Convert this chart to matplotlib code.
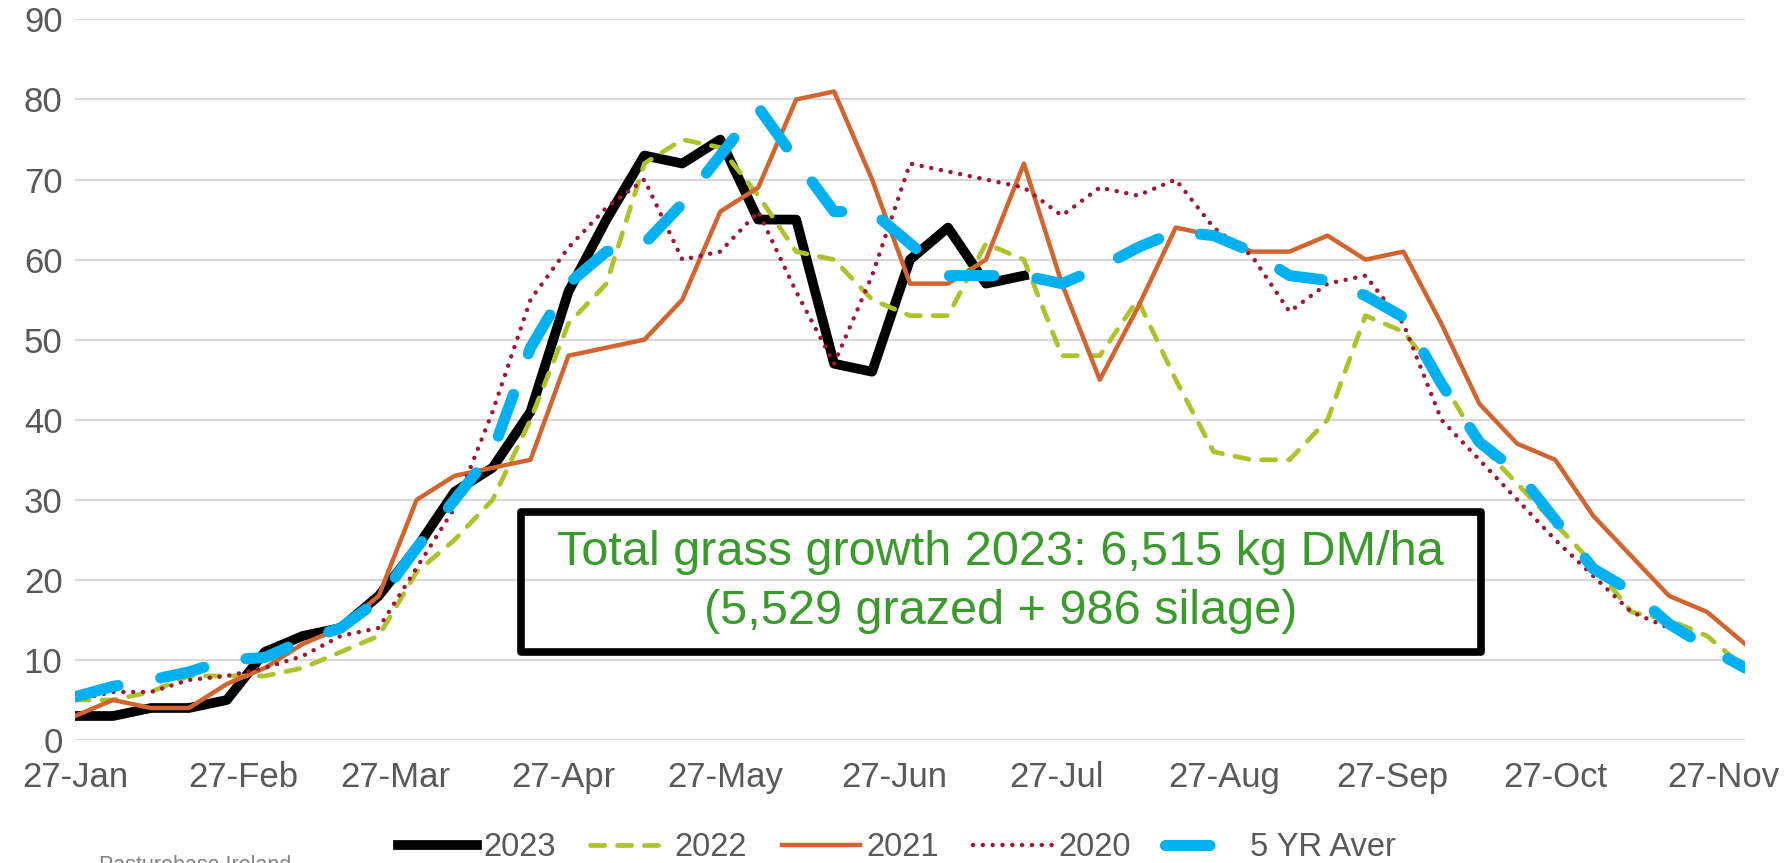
import matplotlib
matplotlib.use("Agg")
from matplotlib import pyplot as plt
from matplotlib.patches import Rectangle
import matplotlib.dates as mdates
import pandas as pd
import datetime as dt

plt.rcParams['font.family'] = ['Liberation Sans', 'DejaVu Sans']

# weekly grass growth, kg DM/ha/day, first week starting 27-Jan
start = '2023-01-27'
n_weeks = 45

g2023 = [3, 3, 4, 4, 5, 11, 13, 14, 18, 24, 31, 34, 41, 56, 65, 73, 72, 75,
         65, 65, 47, 46, 60, 64, 57, 58]
g2022 = [5, 5, 6, 8, 8, 8, 9, 11, 13, 21, 25, 30, 40, 52, 57, 72, 75, 74, 68,
         61, 60, 55, 53, 53, 62, 60, 48, 48, 55, 45, 36, 35, 35, 40, 53, 51,
         45, 37, 32, 27, 22, 16, 15, 13, 9]
g2021 = [3, 5, 4, 4, 7, 9, 12, 14, 18, 30, 33, 34, 35, 48, 49, 50, 55, 66, 69,
         80, 81, 70, 57, 57, 60, 72, 57, 45, 54, 64, 63, 61, 61, 63, 60, 61,
         52, 42, 37, 35, 28, 23, 18, 16, 12]
g2020 = [5, 6, 6, 7.5, 8, 9, 10.5, 13, 14, 21.5, 29, 41, 55, 61.5, 66.5, 70,
         60, 61, 66, 56, 47, 58, 72, 71, 70, 69, 65.5, 69, 68, 70, 64, 60.5,
         53.5, 57, 58, 52, 40, 35, 30, 25, 20.5, 16, 14]
g5yr = [5.4, 6.7, 7.5, 8.5, 10, 10.3, 12.4, 14, 17.5, 24, 30, 36, 49, 57, 61,
        62, 67, 73, 79, 72.4, 66, 66, 62, 58, 58, 58, 57, 59, 61.5, 63.5, 63,
        61, 58, 57.4, 55.5, 52.8, 44.5, 37.2, 33.5, 27.5, 21.4, 18.6, 14.5,
        11.6, 9]

labels = ['2023', '2022', '2021', '2020', '5 YR Aver']
note = 'Total grass growth 2023: 6,515 kg DM/ha\n(5,529 grazed + 986 silage)'

dates = pd.date_range(start, periods=n_weeks, freq='7D')

fig = plt.figure(figsize=(17.87, 8.63), dpi=100)
ax = fig.add_axes([0.042, 0.1425, 0.9345, 0.835])

ax.plot(dates[:len(g2023)], g2023, color='black', lw=7,
        solid_joinstyle='round', label=labels[0], zorder=3)
ax.plot(dates[:len(g2022)], g2022, color='#AFC22B', lw=3.4,
        dashes=(3.0, 2.7), dash_capstyle='round', label=labels[1], zorder=4)
ax.plot(dates[:len(g2021)], g2021, color='#D2652F', lw=3.2,
        label=labels[2], zorder=5)
ax.plot(dates[:len(g2020)], g2020, color='#9E1630', lw=3.2,
        dashes=(0.01, 2.2), dash_capstyle='round', label=labels[3], zorder=6)
ax.plot(dates[:len(g5yr)], g5yr, color='#00B0F0', lw=8,
        dashes=(4.0, 3.9), dash_capstyle='round', label=labels[4], zorder=7)

ax.set_ylim(0, 90)
ax.set_yticks(range(0, 91, 10))
ax.set_xlim(dates[0], dates[-1])
ax.set_xticks([dt.datetime(2023, m, 27) for m in range(1, 12)])
ax.xaxis.set_major_formatter(mdates.DateFormatter('%d-%b'))

ax.grid(axis='y', color='#D9D9D9', lw=1.6, zorder=0)
for s in ax.spines.values():
    s.set_visible(False)
ax.tick_params(length=0, labelsize=25, labelcolor='#595959')
ax.tick_params(axis='y', pad=9)
ax.tick_params(axis='x', pad=15)

# text box
fig.add_artist(Rectangle((0.2916, 0.2445), 0.5372, 0.1622, transform=fig.transFigure,
                         fill=False, ec='black', lw=5.5, joinstyle='round', zorder=10))
fig.text(0.560, 0.3256, note, ha='center', va='center', color='#3A9A2C',
         fontsize=35, linespacing=1.4, zorder=11)

fig.legend(loc='lower center', bbox_to_anchor=(0.502, -0.034), ncol=5,
           frameon=False, fontsize=23.5, labelcolor='#595959', handlelength=2.4,
           handletextpad=0.2, columnspacing=1.05)

fig.text(0.0554, 0.009, 'Pasturebase Ireland', ha='left', va='top',
         color='#808080', fontsize=15.5)

fig.savefig('out.png', dpi=100)
